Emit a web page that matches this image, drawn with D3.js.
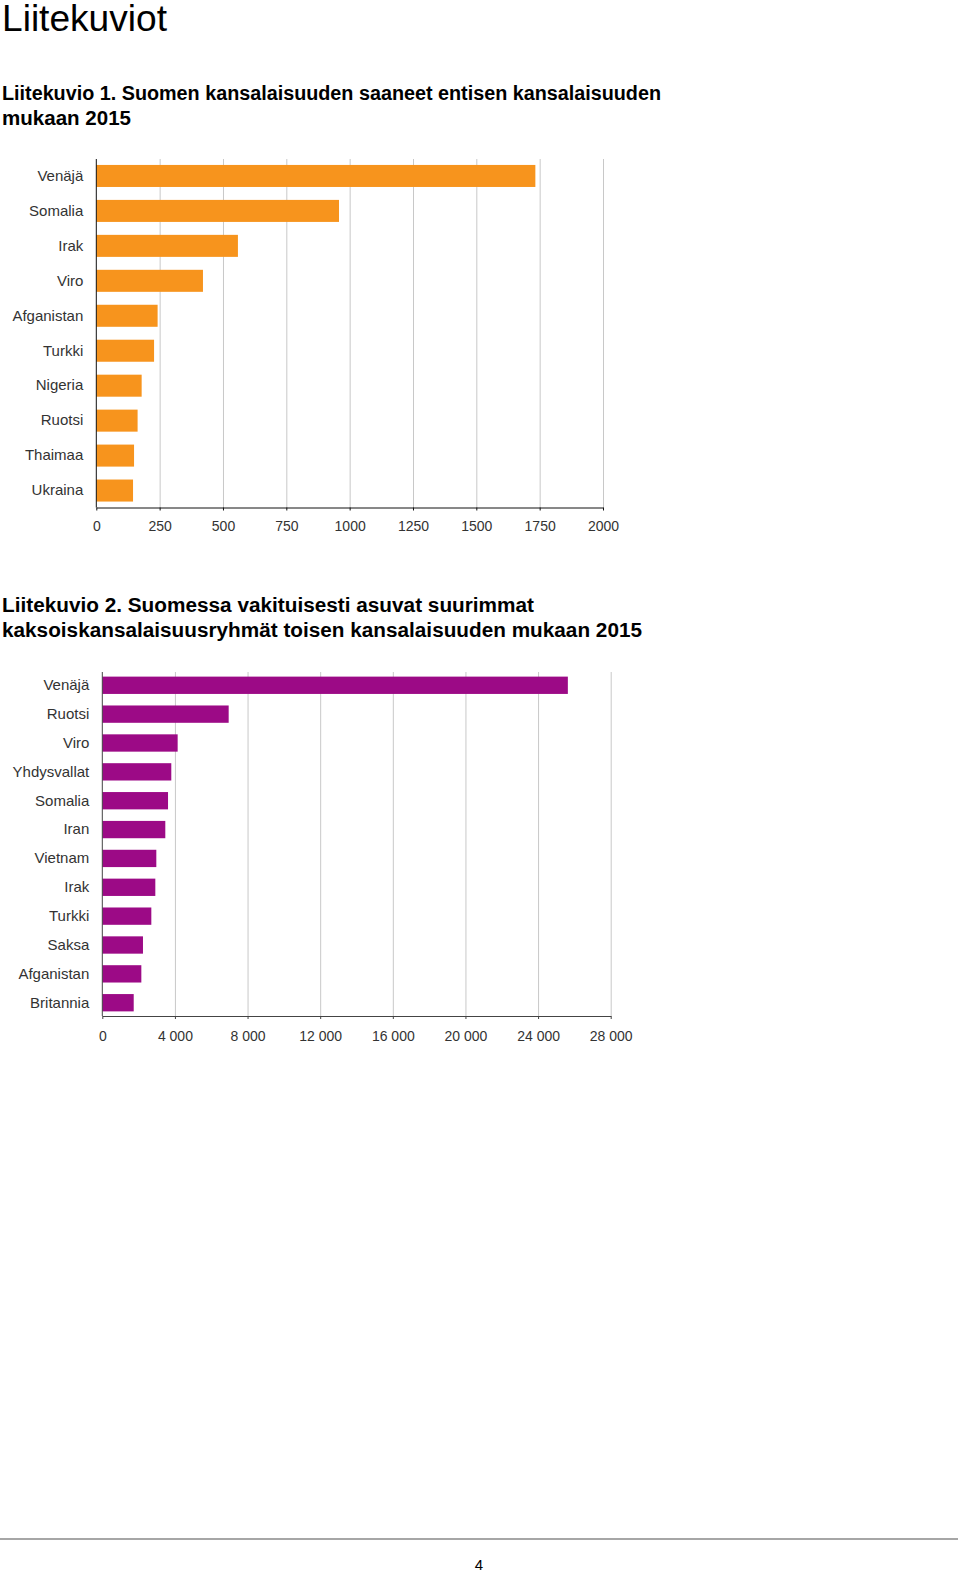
<!DOCTYPE html>
<html>
<head>
<meta charset="utf-8">
<script src="https://cdn.jsdelivr.net/npm/d3@7"></script>
<style>
  body { margin: 0; background: #fff; }
  svg { display: block; font-family: "Liberation Sans", Arial, sans-serif; }
  .grid line { stroke: #c8c8c8; }
  .grid path { display: none; }
  .tick text { fill: #333; }
</style>
</head>
<body>
<svg id="page" width="960" height="1572"></svg>
<script>
// Liitekuvio 1
let maat1 = ["Venäjä", "Somalia", "Irak", "Viro", "Afganistan", "Turkki", "Nigeria", "Ruotsi", "Thaimaa", "Ukraina"];
let arvot1 = [1733, 958, 559, 421, 242, 228, 179, 163, 149, 145];
let ticks1 = [0, 250, 500, 750, 1000, 1250, 1500, 1750, 2000];

// Liitekuvio 2
let maat2 = ["Venäjä", "Ruotsi", "Viro", "Yhdysvallat", "Somalia", "Iran", "Vietnam", "Irak", "Turkki", "Saksa", "Afganistan", "Britannia"];
let arvot2 = [25640, 6960, 4150, 3800, 3620, 3470, 2975, 2920, 2700, 2240, 2150, 1730];
let ticks2 = [0, 4000, 8000, 12000, 16000, 20000, 24000, 28000];

let svg = d3.select("#page");
let fi = d3.formatLocale({ decimal: ",", thousands: " ", grouping: [3], currency: ["", " €"] });

function text(x, y, s, size, weight, len) {
    let t = svg.append("text")
        .attr("x", x).attr("y", y)
        .attr("font-size", size)
        .attr("font-weight", weight || "normal")
        .attr("fill", "#000")
        .text(s);
    if (len) t.attr("textLength", len).attr("lengthAdjust", "spacingAndGlyphs");
    return t;
}

text(2, 31, "Liitekuviot", 37, "normal", 165);
text(2, 100, "Liitekuvio 1. Suomen kansalaisuuden saaneet entisen kansalaisuuden", 20, "bold", 659);
text(2, 125, "mukaan 2015", 20, "bold", 129);
text(2, 612, "Liitekuvio 2. Suomessa vakituisesti asuvat suurimmat", 19.5, "bold", 532);
text(2, 637, "kaksoiskansalaisuusryhmät toisen kansalaisuuden mukaan 2015", 19.5, "bold", 640);

function barChart(o) {
    let x = d3.scaleLinear()
        .domain([0, o.ticks[o.ticks.length - 1]])
        .range([o.left, o.right]);

    let y = d3.scaleBand()
        .domain(o.cats)
        .range([o.top, o.bottom])
        .paddingInner(o.padIn)
        .paddingOuter(o.padOut);

    // gridlines
    svg.append("g")
        .attr("class", "grid")
        .attr("transform", "translate(0," + o.top + ")")
        .call(d3.axisBottom(x).tickValues(o.ticks.slice(1)).tickSize(o.bottom - o.top).tickFormat(""));

    svg.append("g")
        .selectAll("rect")
        .data(o.vals)
        .join("rect")
        .attr("x", x(0))
        .attr("y", function (d, i) { return y(o.cats[i]); })
        .attr("width", function (d) { return x(d) - x(0); })
        .attr("height", y.bandwidth())
        .attr("fill", o.color);

    // Add the X Axis
    let xa = svg.append("g")
        .attr("transform", "translate(0," + o.bottom + ")")
        .call(d3.axisBottom(x).tickValues(o.ticks).tickSize(3).tickSizeOuter(0).tickPadding(o.tickPad).tickFormat(o.fmt));
    xa.select(".domain").attr("stroke", o.axisColor);
    xa.selectAll(".tick line").attr("stroke", o.axisColor);
    xa.selectAll("text").attr("font-size", 14).attr("font-family", "Liberation Sans, Arial, sans-serif");

    // Add the Y Axis
    let ya = svg.append("g")
        .attr("transform", "translate(" + x(0) + ",0)")
        .call(d3.axisLeft(y).tickSize(0).tickPadding(o.labelPad));
    ya.select(".domain").attr("stroke", o.axisColor).attr("d", "M0," + o.top + "V" + o.bottom);
    ya.selectAll("text").attr("font-size", 15).attr("font-family", "Liberation Sans, Arial, sans-serif").attr("fill", "#222");
}

barChart({
    cats: maat1, vals: arvot1, ticks: ticks1,
    left: 96.3, right: 603, top: 159, bottom: 507.5,
    padIn: 0.37, padOut: 0.17,
    color: "#f7941d", axisColor: "#111",
    labelPad: 13, tickPad: 11, fmt: d3.format("d")
});

barChart({
    cats: maat2, vals: arvot2, ticks: ticks2,
    left: 102.3, right: 610.7, top: 672, bottom: 1016,
    padIn: 0.4, padOut: 0.16,
    color: "#9c0a86", axisColor: "#444",
    labelPad: 13, tickPad: 12, fmt: fi.format(",d")
});

// footer
svg.append("line")
    .attr("x1", 0).attr("x2", 958)
    .attr("y1", 1539).attr("y2", 1539)
    .attr("stroke", "#888").attr("stroke-width", 1.5);
text(479, 1570, "4", 15, "normal").attr("text-anchor", "middle");
</script>
</body>
</html>
